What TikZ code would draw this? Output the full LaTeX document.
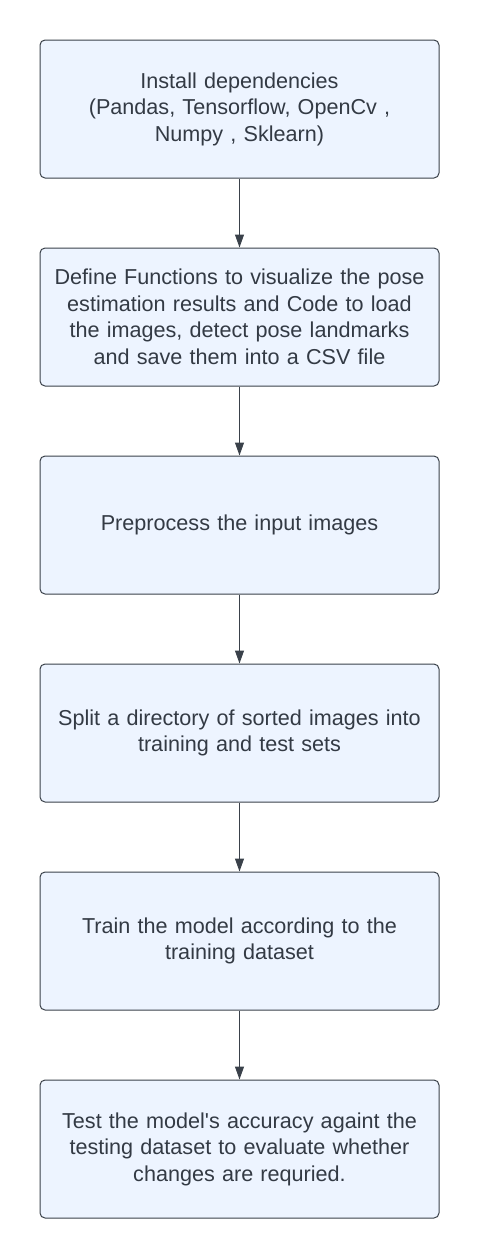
\documentclass[tikz,border=0pt]{standalone}
\usepackage{fontspec}
\setmainfont{Liberation Sans}
\usetikzlibrary{arrows.meta}
\definecolor{boxfill}{HTML}{EDF4FF}
\definecolor{boxdraw}{HTML}{3A414A}
\definecolor{txt}{HTML}{333A44}
\tikzset{
  stepbox/.style={draw=boxdraw, fill=boxfill, line width=1pt, rounded corners=5pt,
    minimum width=399pt, minimum height=138pt, inner sep=0pt,
    text width=392pt, align=center, text=txt,
    font=\fontsize{21.6}{26.5}\selectfont},
  flow/.style={draw=boxdraw, line width=1pt, -{Triangle[length=13pt,width=9pt]}}
}
\begin{document}
\begin{tikzpicture}[x=1pt,y=-1pt]
\useasboundingbox (0,0) rectangle (480,1259);
\node[stepbox] (b1) at (239.5,109) {Install dependencies\\(Pandas, Tensorflow, OpenCv ,\\Numpy , Sklearn)};
\node[stepbox] (b2) at (239.5,317) {Define Functions to visualize the pose\\estimation results and Code to load\\the images, detect pose landmarks\\and save them into a CSV file};
\node[stepbox] (b3) at (239.5,525) {Preprocess the input images};
\node[stepbox] (b4) at (239.5,733) {Split a directory of sorted images into\\training and test sets};
\node[stepbox] (b5) at (239.5,941) {Train the model according to the\\training dataset};
\node[stepbox] (b6) at (239.5,1149) {Test the model\textquotesingle s accuracy againt the\\testing dataset to evaluate whether\\changes are requried.};
\draw[flow] (b1) -- (b2);
\draw[flow] (b2) -- (b3);
\draw[flow] (b3) -- (b4);
\draw[flow] (b4) -- (b5);
\draw[flow] (b5) -- (b6);
\end{tikzpicture}
\end{document}
